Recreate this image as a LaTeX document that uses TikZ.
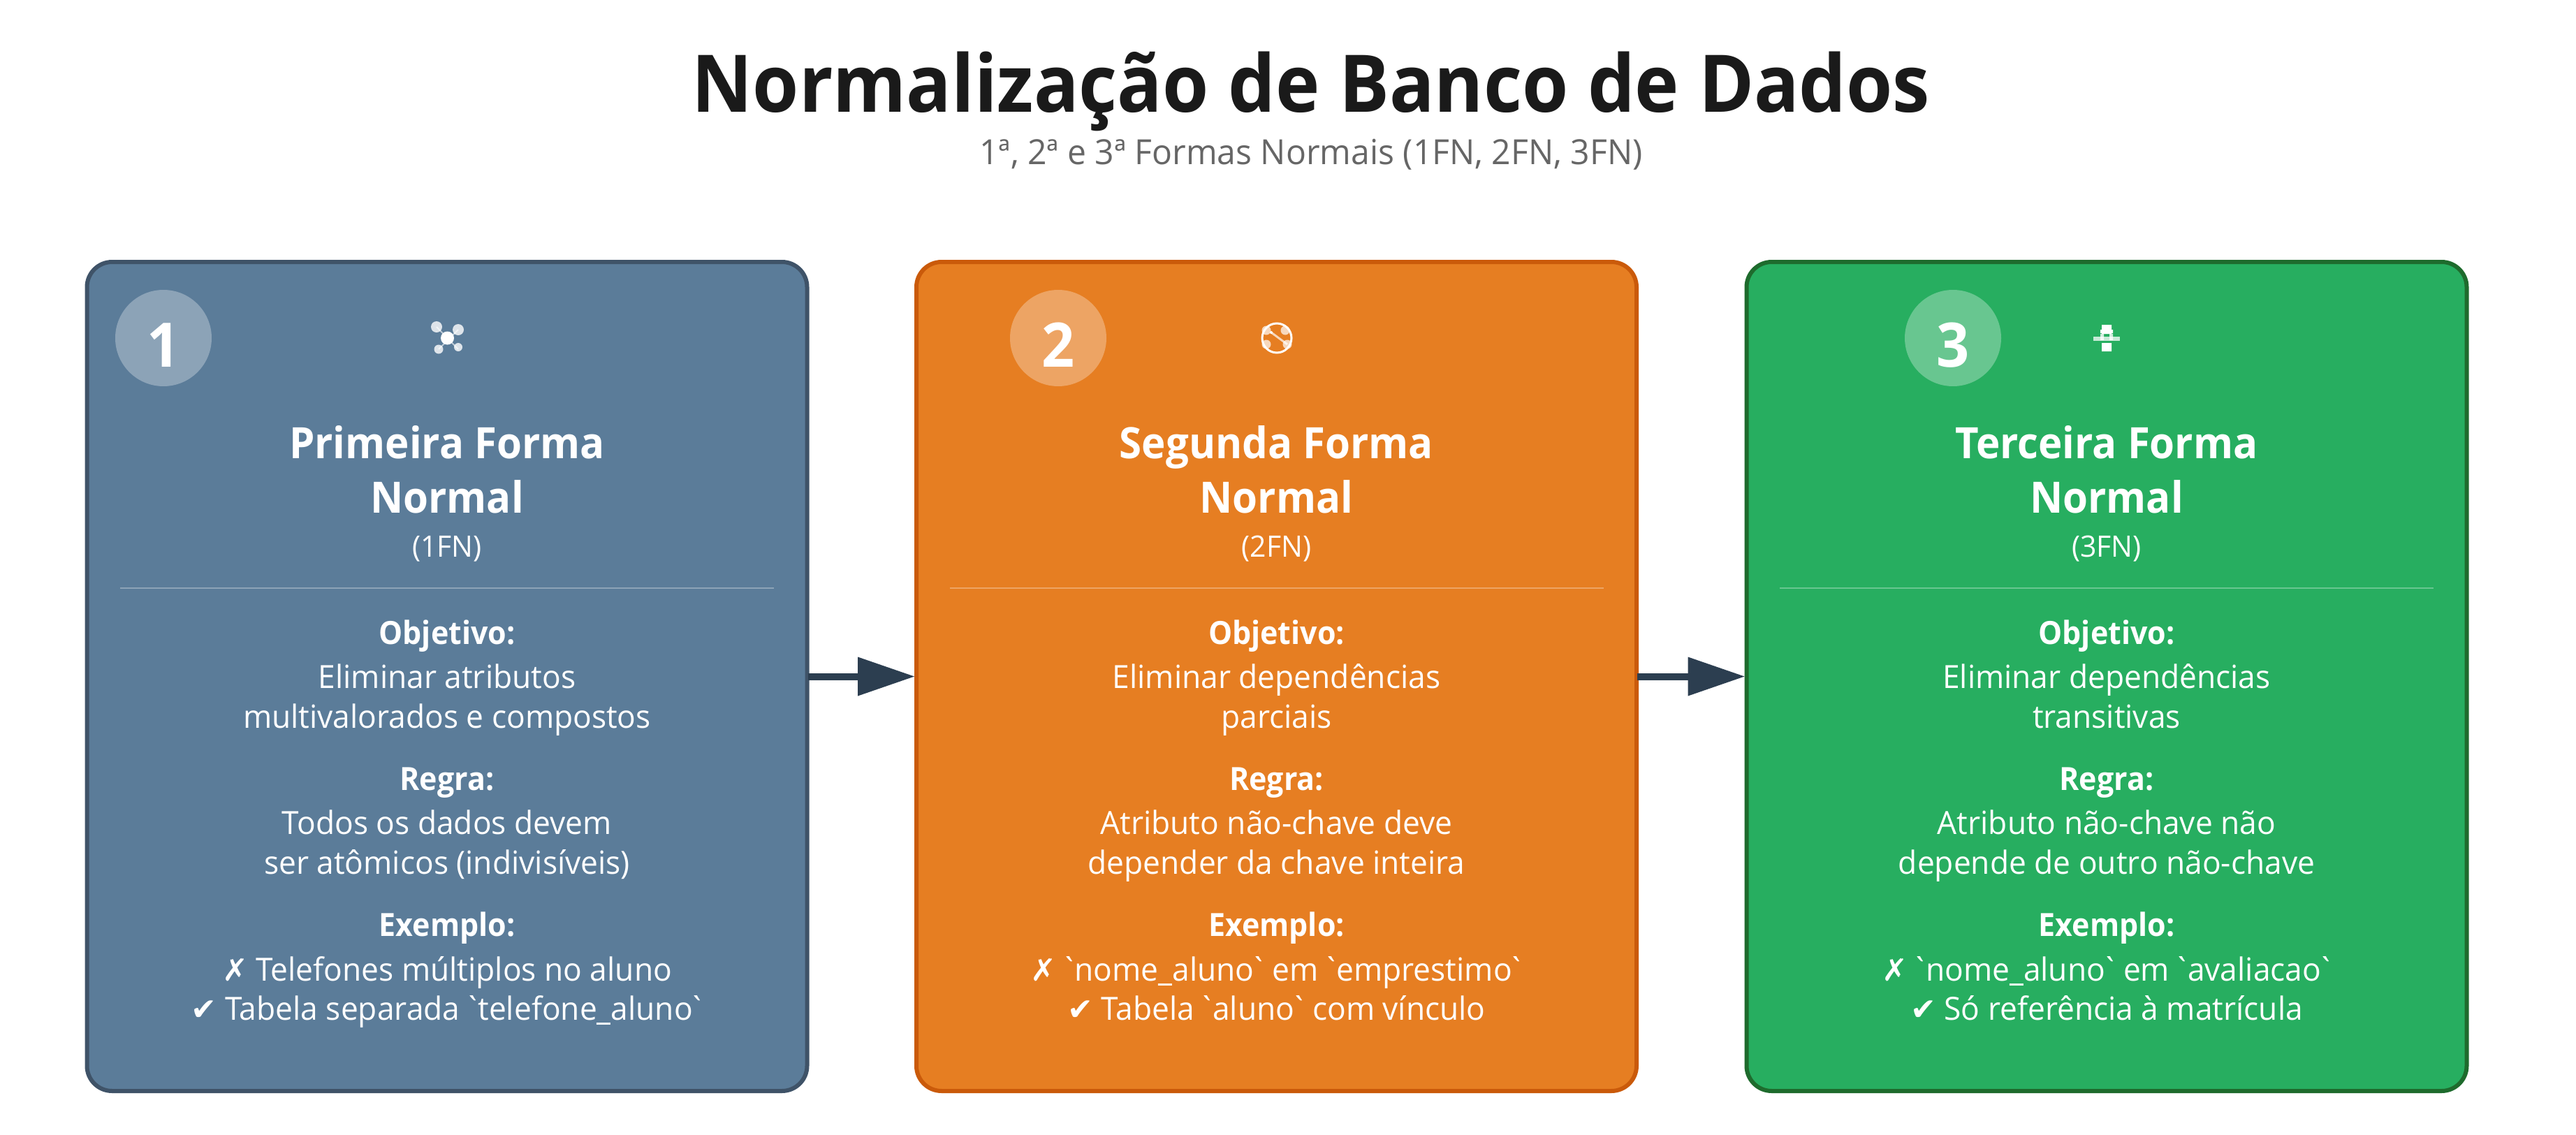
\documentclass[tikz,border=0pt]{standalone}
\usepackage{fontspec}
\setmainfont[FakeStretch=0.97,BoldFeatures={FakeStretch=0.94}]{Open Sans}
\newfontfamily\symbolfont{DejaVu Sans}
\usetikzlibrary{arrows.meta}
\definecolor{bluecard}{HTML}{5B7C99}
\definecolor{blueedge}{HTML}{3F5368}
\definecolor{orangecard}{HTML}{E67E22}
\definecolor{orangeedge}{HTML}{CA5A0A}
\definecolor{greencard}{HTML}{27AE60}
\definecolor{greenedge}{HTML}{1E6B2D}
\definecolor{arrowdark}{HTML}{2C3E50}
\definecolor{titledark}{HTML}{1A1A1A}
\definecolor{subgray}{HTML}{666666}
\newcommand{\nope}{{\symbolfont\fontsize{12.5}{15}\selectfont ✗}}
\newcommand{\yes}{{\symbolfont\fontsize{12.5}{15}\selectfont ✔}}
\newcommand{\tick}{\kern-0.13em\textasciigrave\kern-0.13em}
\tikzset{
	txt/.style={anchor=base,inner sep=0pt,text=white},
	cardbox/.style={rectangle,rounded corners=0.36cm,line width=0.06cm,minimum width=10.31cm,minimum height=11.87cm,inner sep=0pt},
	badge/.style={circle,fill=white,fill opacity=0.3,minimum size=1.38cm,inner sep=0pt},
	digit/.style={txt,font=\bfseries\fontsize{25}{30}\selectfont},
	heading/.style={txt,font=\bfseries\fontsize{17.6}{20}\selectfont},
	tag/.style={txt,font=\fontsize{12}{15}\selectfont},
	label/.style={txt,font=\bfseries\fontsize{13}{16}\selectfont},
	body/.style={txt,font=\fontsize{13}{16}\selectfont},
	rule/.style={draw=white,draw opacity=0.3,line width=0.025cm},
	flow/.style={-{Triangle[length=0.81cm,width=0.56cm,line width=0pt]},line width=0.1cm,color=arrowdark,shorten <=-0.02cm},
}
\begin{document}
\begin{tikzpicture}
	\path[fill=white,use as bounding box] (0,0) rectangle (36.88,-16.25);
	\node[anchor=base,inner sep=0pt,text=titledark,font=\bfseries\fontsize{32.4}{38}\selectfont] at (18.77,-1.6) (title) {Normalização de Banco de Dados};
	\node[anchor=base,inner sep=0pt,text=subgray,font=\fontsize{14.1}{17}\selectfont] at (18.77,-2.35) (subtitle) {1ª, 2ª e 3ª Formas Normais (1FN, 2FN, 3FN)};

	\node[cardbox,fill=bluecard,draw=blueedge] at (6.4,-9.685) (card1) {};
	\node[cardbox,fill=orangecard,draw=orangeedge] at (18.275,-9.685) (card2) {};
	\node[cardbox,fill=greencard,draw=greenedge] at (30.16,-9.685) (card3) {};
	\path[flow] (card1) edge (card2);
	\path[flow] (card2) edge (card3);

	% card 1
	\node[badge] at (2.34,-4.84) (badge1) {};
	\node[digit] at (2.34,-5.25) (num1) {1};
	\draw[white,opacity=0.6,line width=0.02cm] (6.25,-4.68) -- (6.56,-5);
	\draw[white,opacity=0.6,line width=0.02cm] (6.56,-4.72) -- (6.28,-5);
	\fill[white] (6.405,-4.84) circle (0.095);
	\fill[white,opacity=0.8] (6.25,-4.68) circle (0.08) (6.56,-4.72) circle (0.08) (6.28,-5) circle (0.065) (6.56,-4.97) circle (0.06);
	\node[heading] at (6.4,-6.56) (head1a) {Primeira Forma};
	\node[heading] at (6.4,-7.34) (head1b) {Normal};
	\node[tag] at (6.4,-7.97) (tag1) {(1FN)};
	\draw[rule] (1.72,-8.42) -- (11.08,-8.42);
	\node[label] at (6.4,-9.22) (obj1) {Objetivo:};
	\node[body] at (6.4,-9.85) (obj1a) {Eliminar atributos};
	\node[body] at (6.4,-10.42) (obj1b) {multivalorados e compostos};
	\node[label] at (6.4,-11.31) (reg1) {Regra:};
	\node[body] at (6.4,-11.94) (reg1a) {Todos os dados devem};
	\node[body] at (6.4,-12.51) (reg1b) {ser atômicos (indivisíveis)};
	\node[label] at (6.4,-13.4) (ex1) {Exemplo:};
	\node[body] at (6.4,-14.04) (ex1a) {\nope{} Telefones múltiplos no aluno};
	\node[body] at (6.4,-14.6) (ex1b) {\yes{} Tabela separada \tick telefone\_aluno\tick};

	% card 2
	\node[badge] at (15.15,-4.84) (badge2) {};
	\node[digit] at (15.15,-5.25) (num2) {2};
	\draw[white,line width=0.03cm] (18.28,-4.84) circle (0.21);
	\fill[white,opacity=0.7] (18.13,-4.73) circle (0.065) (18.4,-4.73) circle (0.065) (18.13,-4.93) circle (0.065) (18.43,-4.93) circle (0.065);
	\draw[white,opacity=0.7,line width=0.03cm] (18.2,-4.76) -- (18.43,-4.93);
	\fill[white] (18.2,-4.76) circle (0.02);
	\node[heading] at (18.275,-6.56) (head2a) {Segunda Forma};
	\node[heading] at (18.275,-7.34) (head2b) {Normal};
	\node[tag] at (18.275,-7.97) (tag2) {(2FN)};
	\draw[rule] (13.595,-8.42) -- (22.955,-8.42);
	\node[label] at (18.275,-9.22) (obj2) {Objetivo:};
	\node[body] at (18.275,-9.85) (obj2a) {Eliminar dependências};
	\node[body] at (18.275,-10.42) (obj2b) {parciais};
	\node[label] at (18.275,-11.31) (reg2) {Regra:};
	\node[body] at (18.275,-11.94) (reg2a) {Atributo não-chave deve};
	\node[body] at (18.275,-12.51) (reg2b) {depender da chave inteira};
	\node[label] at (18.275,-13.4) (ex2) {Exemplo:};
	\node[body] at (18.275,-14.04) (ex2a) {\nope{} \tick nome\_aluno\tick{} em \tick emprestimo\tick};
	\node[body] at (18.275,-14.6) (ex2b) {\yes{} Tabela \tick aluno\tick{} com vínculo};

	% card 3
	\node[badge] at (27.96,-4.84) (badge3) {};
	\node[digit] at (27.96,-5.25) (num3) {3};
	\fill[white,opacity=0.75] (29.97,-4.82) rectangle (30.35,-4.88);
	\fill[white] (30.09,-4.65) rectangle (30.23,-4.78) (30.09,-4.91) rectangle (30.23,-5.03) (30.07,-4.72) rectangle (30.25,-4.77);
	\fill[white,opacity=0.8] (30.07,-4.78) rectangle (30.12,-4.87) (30.2,-4.78) rectangle (30.25,-4.87);
	\node[heading] at (30.16,-6.56) (head3a) {Terceira Forma};
	\node[heading] at (30.16,-7.34) (head3b) {Normal};
	\node[tag] at (30.16,-7.97) (tag3) {(3FN)};
	\draw[rule] (25.48,-8.42) -- (34.84,-8.42);
	\node[label] at (30.16,-9.22) (obj3) {Objetivo:};
	\node[body] at (30.16,-9.85) (obj3a) {Eliminar dependências};
	\node[body] at (30.16,-10.42) (obj3b) {transitivas};
	\node[label] at (30.16,-11.31) (reg3) {Regra:};
	\node[body] at (30.16,-11.94) (reg3a) {Atributo não-chave não};
	\node[body] at (30.16,-12.51) (reg3b) {depende de outro não-chave};
	\node[label] at (30.16,-13.4) (ex3) {Exemplo:};
	\node[body] at (30.16,-14.04) (ex3a) {\nope{} \tick nome\_aluno\tick{} em \tick avaliacao\tick};
	\node[body] at (30.16,-14.6) (ex3b) {\yes{} Só referência à matrícula};
\end{tikzpicture}
\end{document}
